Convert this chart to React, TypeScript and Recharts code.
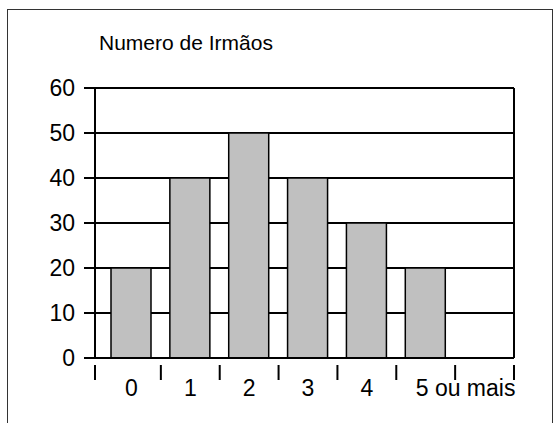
import React from "react";
import { BarChart, Bar, XAxis, YAxis, CartesianGrid } from "recharts";

const categories = ["0", "1", "2", "3", "4", "5 ou mais", ""];
const counts: (number | null)[] = [20, 40, 50, 40, 30, 20, null];
const yTicks = [0, 10, 20, 30, 40, 50, 60];
const title = "Numero de Irmãos";

const data = categories.map((c, i) => ({ cat: c, value: counts[i] }));

const FONT = "'Liberation Sans', Arial, sans-serif";
const PAD_L = 7;

const XTick = (props: any) => {
  const { x, y, payload, index } = props;
  const half = payload && payload.offset ? payload.offset : 29.4;
  const left = index === 0 ? x - half - PAD_L : x - half;
  const label: string = payload.value;
  const long = label.length > 3;
  return (
    <g>
      <line x1={left} x2={left} y1={y - 1} y2={y + 14} stroke="#000" strokeWidth={2} />
      {index === categories.length - 1 && (
        <line x1={x + half} x2={x + half} y1={y - 1} y2={y + 14} stroke="#000" strokeWidth={2} />
      )}
      <text
        x={long ? x - 10 : x}
        y={y + 30}
        textAnchor={long ? "start" : "middle"}
        fontFamily={FONT}
        fontSize={23}
        fill="#000"
      >
        {label}
      </text>
    </g>
  );
};

export default function App() {
  return (
    <div style={{ position: "absolute", left: 0, top: 0, width: 555, height: 423, background: "#fff", overflow: "hidden" }}>
      <div
        style={{
          position: "absolute",
          left: 7,
          top: 9,
          width: 546,
          height: 430,
          border: "1.5px solid #333",
          boxSizing: "border-box",
        }}
      />
      <div
        style={{
          position: "absolute",
          left: 99,
          top: 31,
          fontFamily: FONT,
          fontSize: 21,
          lineHeight: "24px",
          color: "#000",
          whiteSpace: "nowrap",
        }}
      >
        {title}
      </div>
      <div style={{ position: "absolute", left: 0, top: 0 }}>
        <BarChart
          width={555}
          height={423}
          data={data}
          margin={{ top: 88, right: 40, left: 35, bottom: 35 }}
          barCategoryGap={0}
        >
          <CartesianGrid yAxisId="l" vertical={false} horizontal={true} stroke="#000" strokeWidth={2} />
          <XAxis
            dataKey="cat"
            type="category"
            height={30}
            padding={{ left: PAD_L, right: 0 }}
            axisLine={{ stroke: "#000", strokeWidth: 2 }}
            tickLine={false}
            interval={0}
            tick={<XTick />}
          />
          <YAxis
            yAxisId="l"
            width={60}
            domain={[0, 60]}
            ticks={yTicks}
            interval={0}
            axisLine={{ stroke: "#000", strokeWidth: 2 }}
            tickLine={{ stroke: "#000", strokeWidth: 2 }}
            tickSize={11}
            tickMargin={9}
            tick={{ fill: "#000", fontFamily: FONT, fontSize: 23 }}
          />
          <YAxis
            yAxisId="r"
            orientation="right"
            width={1}
            domain={[0, 60]}
            ticks={yTicks}
            tick={false}
            tickLine={false}
            axisLine={{ stroke: "#000", strokeWidth: 2 }}
          />
          <Bar
            yAxisId="l"
            dataKey="value"
            barSize={40}
            fill="#c0c0c0"
            stroke="#000"
            strokeWidth={1.5}
            isAnimationActive={false}
          />
        </BarChart>
      </div>
    </div>
  );
}
